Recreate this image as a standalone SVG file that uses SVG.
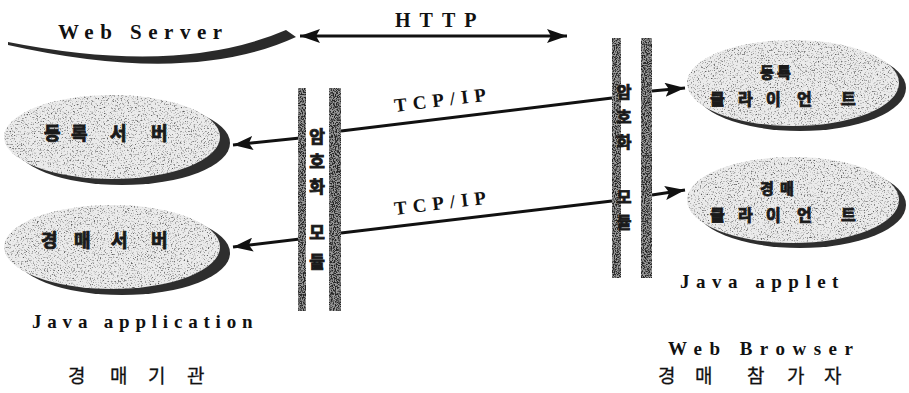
<svg xmlns="http://www.w3.org/2000/svg" width="909" height="393" viewBox="0 0 909 393">
<style>
.lat{font-family:"Liberation Serif","Times New Roman",serif;font-weight:bold;fill:#111}
.kb{font-family:"Noto Sans CJK KR","Noto Sans",sans-serif;font-weight:bold;fill:#1a1a1a;stroke:#1a1a1a;stroke-width:0.9}
.kn{font-family:"Noto Sans CJK KR","Noto Sans",sans-serif;font-weight:normal;fill:#111;stroke:#111;stroke-width:0.3}
.body{fill:#ebebeb;filter:url(#grain)}
.shadow{fill:#2e2e2e}
.bar{fill:#999999;filter:url(#grainDark)}
.conn{stroke:#111;stroke-width:3;fill:none}
</style>
<defs>
<filter id="grain" x="-5%" y="-5%" width="110%" height="110%" color-interpolation-filters="sRGB">
<feTurbulence type="fractalNoise" baseFrequency="0.7" numOctaves="3" seed="7" result="n"/>
<feColorMatrix in="n" type="matrix" values="0 0 0 0 0.35  0 0 0 0 0.35  0 0 0 0 0.35  3.5 0 0 0 -1.9" result="d"/>
<feComposite in="d" in2="SourceGraphic" operator="in" result="dc"/>
<feMerge><feMergeNode in="SourceGraphic"/><feMergeNode in="dc"/></feMerge>
</filter>
<filter id="grainDark" x="-20%" y="-2%" width="140%" height="104%" color-interpolation-filters="sRGB">
<feTurbulence type="fractalNoise" baseFrequency="0.9" numOctaves="2" seed="3" result="n"/>
<feColorMatrix in="n" type="matrix" values="0 0 0 0 0.15  0 0 0 0 0.15  0 0 0 0 0.15  5 0 0 0 -2.1" result="d"/>
<feComposite in="d" in2="SourceGraphic" operator="in" result="dc"/>
<feMerge><feMergeNode in="SourceGraphic"/><feMergeNode in="dc"/></feMerge>
</filter>
<marker id="ah" viewBox="0 0 20 14" refX="20" refY="7" markerWidth="20" markerHeight="14" markerUnits="userSpaceOnUse" orient="auto-start-reverse">
<path d="M0,0 L20,7 L0,14 L4,7 Z" fill="#111"/>
</marker>
</defs>
<rect width="909" height="393" fill="#ffffff"/>

<g id="node-web-server">
<path d="M8,42 Q180,76 286,30 L296,37 Q190,86 8,45 Z" fill="#2a2a2a"/>
<text class="lat" x="58" y="39" font-size="21" letter-spacing="6.5">Web Server</text>
</g>

<g id="connectors">
<line class="conn" x1="300" y1="36" x2="567" y2="36" marker-start="url(#ah)" marker-end="url(#ah)"/>
<line class="conn" x1="341" y1="131" x2="612" y2="98"/>
<line class="conn" x1="341" y1="233" x2="612" y2="201"/>
<line class="conn" x1="300" y1="138" x2="233" y2="145" marker-end="url(#ah)"/>
<line class="conn" x1="300" y1="239" x2="233" y2="247" marker-end="url(#ah)"/>
<line class="conn" x1="652" y1="91" x2="685" y2="88" marker-end="url(#ah)"/>
<line class="conn" x1="652" y1="195" x2="685" y2="190" marker-end="url(#ah)"/>
<text class="lat" x="395" y="27" font-size="20" letter-spacing="9">HTTP</text>
<text class="lat" x="395" y="112" font-size="19" letter-spacing="6" transform="rotate(-7 395 112)">TCP/IP</text>
<text class="lat" x="395" y="215" font-size="19" letter-spacing="6" transform="rotate(-7 395 215)">TCP/IP</text>
</g>

<g id="node-crypto-left">
<rect class="bar" x="298" y="88" width="8" height="223"/>
<rect class="bar" x="329" y="88" width="12" height="223"/>
<text class="kb" font-size="17" text-anchor="middle" x="317 317 317 317 317" y="143 168 193 239 268">암호화모듈</text>
</g>

<g id="node-crypto-right">
<rect class="bar" x="612" y="38" width="9" height="240"/>
<rect class="bar" x="641" y="38" width="11" height="240"/>
<text class="kb" font-size="16" text-anchor="middle" x="624 624 624 624 624" y="98 123 148 203 228">암호화모듈</text>
</g>

<g id="node-reg-server">
<ellipse class="shadow" cx="122" cy="143" rx="108" ry="42"/>
<ellipse class="body" cx="112" cy="137" rx="108" ry="42"/>
<text class="kb" font-size="18" x="44 71 110 151" y="140">등록서버</text>
</g>

<g id="node-auction-server">
<ellipse class="shadow" cx="122" cy="253" rx="108" ry="42"/>
<ellipse class="body" cx="112" cy="247" rx="108" ry="42"/>
<text class="kb" font-size="18" x="41 74 111 151" y="247">경매서버</text>
</g>

<g id="node-reg-client">
<ellipse class="shadow" cx="800" cy="88" rx="106" ry="43"/>
<ellipse class="body" cx="793" cy="83" rx="106" ry="43"/>
<text class="kb" font-size="15" x="760 777" y="78">등록</text>
<text class="kb" font-size="16" x="710 738 766 797 841" y="105">클라이언트</text>
</g>

<g id="node-auction-client">
<ellipse class="shadow" cx="800" cy="205" rx="106" ry="43"/>
<ellipse class="body" cx="793" cy="200" rx="106" ry="43"/>
<text class="kb" font-size="15" x="760 780" y="194">경매</text>
<text class="kb" font-size="16" x="710 738 766 797 841" y="221">클라이언트</text>
</g>

<g id="labels">
<text class="lat" x="680" y="288" font-size="19" letter-spacing="6.5">Java applet</text>
<text class="lat" x="32" y="328" font-size="19" letter-spacing="5.8">Java application</text>
<text class="lat" x="668" y="355" font-size="19" letter-spacing="7.5">Web Browser</text>
<text class="kn" font-size="19" x="68 110 148 187" y="383">경매기관</text>
<text class="kn" font-size="19" x="658 695 747 787 824" y="383">경매참가자</text>
</g>
</svg>
